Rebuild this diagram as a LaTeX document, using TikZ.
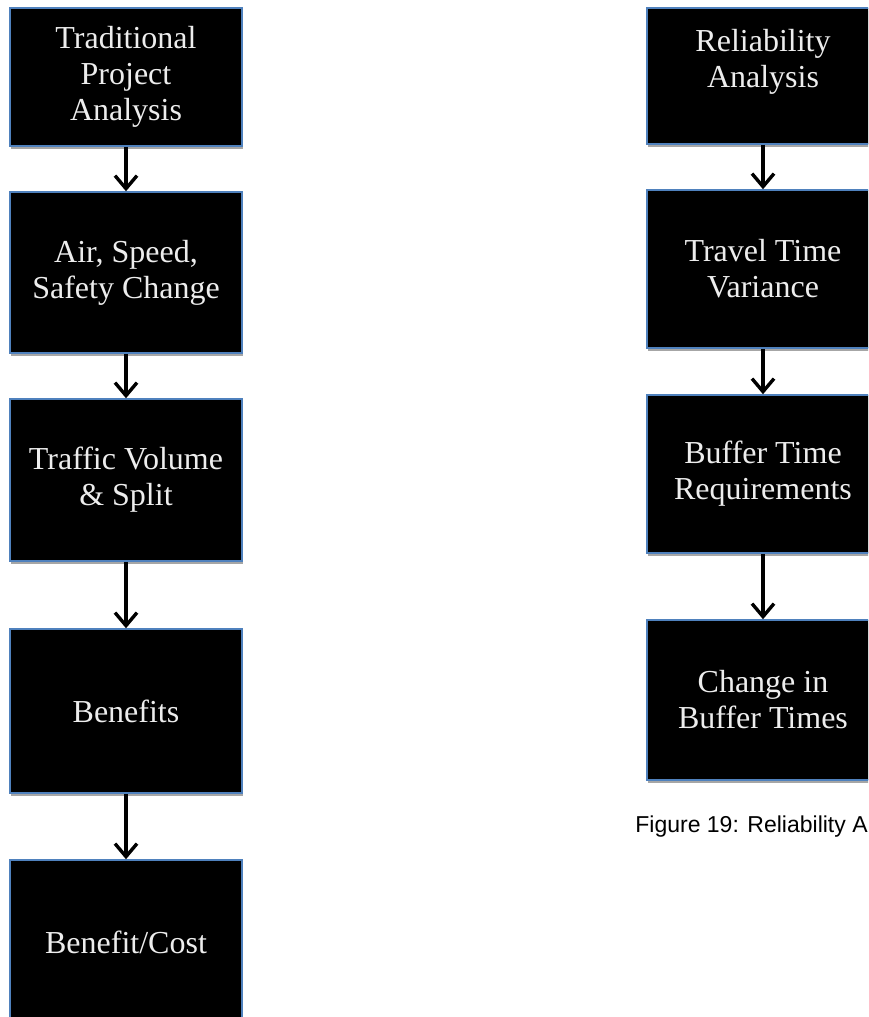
\documentclass[tikz,border=0pt]{standalone}
\usepackage{fontspec}
\setmainfont{Liberation Serif}
\newfontfamily\capfont{Liberation Sans}
\usepackage{tikz}
\usetikzlibrary{arrows.meta,shadows}
\definecolor{boxedge}{HTML}{4F81BD}
\definecolor{boxtext}{HTML}{EDEDED}
\tikzset{
  flowbox/.style={rectangle, draw=boxedge, fill=black, line width=0.75pt,
                  minimum width=116pt, minimum height=#1, inner sep=0pt,
                  align=center, text=boxtext,
                  font=\fontsize{16}{18}\selectfont,
                  drop shadow={shadow xshift=0.6pt, shadow yshift=-1.6pt, opacity=0.35, fill=black}},
  arr/.style={-{Straight Barb[length=6.5pt, width=11pt]}, line width=1.7pt, draw=black},
}
\begin{document}
\begin{tikzpicture}[x=0.5pt, y=-0.5pt]
\useasboundingbox (0,0) rectangle (868,1017);
\clip (0,0) rectangle (868,1017);
% left column: traditional analysis
\node[flowbox=69pt]   (trad)   at (126,77)    {Traditional\\Project\\Analysis};
\node[flowbox=80.5pt] (air)    at (126,272.5) {Air, Speed,\\Safety Change};
\node[flowbox=81pt]   (vol)    at (126,480)   {Traffic Volume\\\& Split};
\node[flowbox=82pt]   (ben)    at (126,711)   {Benefits};
\node[flowbox=82pt]   (bcost)  at (126,942)   {Benefit/Cost};
\draw[arr] (trad) -- (air);
\draw[arr] (air) -- (vol);
\draw[arr] (vol) -- (ben);
\draw[arr] (ben) -- (bcost);
% right column: reliability analysis
\node[flowbox=68pt, text depth=18pt] (rel) at (763,76)  {Reliability\\Analysis};
\node[flowbox=79pt] (ttv)    at (763,269) {Travel Time\\Variance};
\node[flowbox=79pt] (buf)    at (763,474) {Buffer Time\\Requirements};
\node[flowbox=80pt] (chg)    at (763,700) {Change in\\Buffer Times};
\draw[arr] (rel) -- (ttv);
\draw[arr] (ttv) -- (buf);
\draw[arr] (buf) -- (chg);
\node[anchor=north west, inner sep=0pt, font=\capfont\fontsize{11.5}{13}\selectfont] (cap) at (635,815) {Figure 19: Reliability A};
\end{tikzpicture}
\end{document}
